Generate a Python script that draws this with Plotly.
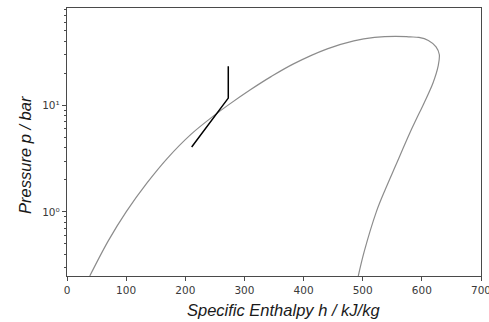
import numpy as np
import plotly.graph_objects as go

# Saturation dome (specific enthalpy h in kJ/kg, pressure p in bar)
dome_h = [38.5, 70, 100, 135, 170, 210, 250, 273, 310, 345, 383, 440, 485, 520, 555,
          580, 595, 611, 624, 629.5, 627.5, 619, 604, 590.5, 580, 555.5, 538.5, 523, 502.5, 492.5]
dome_p = [0.25, 0.537, 1.0, 1.86, 3.20, 5.37, 8.13, 10.1, 14.0, 18.6, 24.5, 33.9, 40.3, 43.4, 44.5,
          43.9, 43.4, 40.7, 35.4, 30.0, 23.3, 16.3, 10.6, 7.39, 5.56, 2.71, 1.64, 1.0, 0.423, 0.25]

# Process line
proc_h = [210.8, 272.7, 272.7]
proc_p = [4.06, 11.7, 23.3]

x_ticks = [0, 100, 200, 300, 400, 500, 600, 700]
y_ticks = [1, 10]
y_ticktext = ["10⁰", "10¹"]
y_minor = [0.3, 0.4, 0.5, 0.6, 0.7, 0.8, 0.9, 2, 3, 4, 5, 6, 7, 8, 9,
           20, 30, 40, 50, 60, 70, 80]

fig = go.Figure()
fig.add_trace(go.Scatter(x=dome_h, y=dome_p, mode="lines",
                         line=dict(color="#8c8c8c", width=1.2, shape="spline", smoothing=1.0),
                         hoverinfo="skip", showlegend=False))
fig.add_trace(go.Scatter(x=proc_h, y=proc_p, mode="lines",
                         line=dict(color="#000000", width=1.5),
                         hoverinfo="skip", showlegend=False))

axis_common = dict(showgrid=False, zeroline=False, showline=True, mirror=True,
                   linecolor="#4a4a4a", linewidth=1.3, ticks="outside", ticklen=4,
                   tickcolor="#4a4a4a", tickwidth=1, ticklabeloverflow="allow",
                   automargin=False,
                   tickfont=dict(family="DejaVu Sans", size=10.5, color="#3a3a3a"))

fig.update_xaxes(range=[0, 700], tickvals=x_ticks, **axis_common)
fig.update_yaxes(type="log", range=[np.log10(0.25), np.log10(82)],
                 tickvals=y_ticks, ticktext=y_ticktext,
                 minor=dict(tickvals=y_minor, ticks="outside", ticklen=2,
                            tickcolor="#4a4a4a", tickwidth=1),
                 **axis_common)

fig.add_annotation(text="Specific Enthalpy h / kJ/kg", xref="paper", yref="paper",
                   x=0.524, y=-0.125, xanchor="center", yanchor="middle", showarrow=False,
                   font=dict(family="Liberation Sans", size=16.5, color="#1a1a1a", style="italic"))
fig.add_annotation(text="Pressure p / bar", xref="paper", yref="paper",
                   x=-0.101, y=0.4525, xanchor="center", yanchor="middle", showarrow=False,
                   textangle=-90,
                   font=dict(family="Liberation Sans", size=16.5, color="#1a1a1a", style="italic"))

fig.update_layout(width=489, height=322, margin=dict(l=67, r=8, t=8, b=45.5, autoexpand=False),
                  paper_bgcolor="white", plot_bgcolor="white")

fig.write_html("out.html", config={"displayModeBar": False},
               post_script="document.body.style.margin='0';document.body.style.overflow='hidden';")
